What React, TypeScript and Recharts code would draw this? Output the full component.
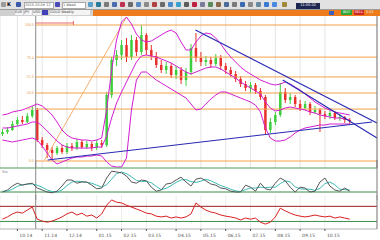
import React from 'react';
import { ComposedChart, Bar, Line, XAxis, YAxis, CartesianGrid, ReferenceLine } from 'recharts';

// weekly candles
const opens = [34, 36, 38, 44, 48, 46, 52, 58, 28, 23, 18, 15, 20, 16, 22, 20, 26, 21, 24, 20, 25, 23, 73, 108, 113, 123, 111, 128, 116, 133, 118, 112, 103, 98, 102, 93, 98, 88, 96, 120, 110, 106, 108, 104, 110, 102, 98, 94, 89, 84, 80, 83, 77, 71, 38, 46, 53, 76, 68, 71, 64, 60, 64, 56, 58, 54, 52, 55, 50, 51, 48];
const closes = [36, 38, 44, 48, 46, 52, 58, 28, 23, 18, 15, 20, 16, 22, 20, 26, 21, 24, 20, 25, 23, 73, 108, 113, 123, 111, 128, 116, 133, 118, 112, 103, 98, 102, 93, 98, 88, 96, 120, 110, 106, 108, 104, 110, 102, 98, 94, 89, 84, 80, 83, 77, 71, 38, 46, 53, 76, 68, 71, 64, 60, 64, 56, 58, 54, 52, 55, 50, 51, 48, 47];
const highs = [39, 41, 47, 51, 52, 55, 62, 60, 31, 25, 21, 22, 23, 25, 25, 29, 28, 27, 26, 28, 28, 76, 111, 118, 128, 130, 133, 131, 143, 135, 123, 116, 108, 106, 105, 102, 101, 100, 124, 135, 116, 112, 111, 114, 113, 105, 101, 97, 92, 87, 86, 85, 80, 73, 50, 56, 85, 80, 75, 73, 68, 67, 66, 62, 60, 57, 58, 57, 54, 52, 50];
const lows = [32, 34, 37, 42, 44, 45, 50, 26, 20, 10, 8, 13, 14, 14, 17, 18, 19, 19, 17, 18, 20, 21, 70, 102, 108, 106, 108, 112, 113, 113, 108, 100, 95, 94, 90, 89, 84, 82, 93, 106, 102, 102, 100, 102, 98, 94, 91, 86, 81, 77, 75, 74, 68, 33, 35, 43, 51, 65, 64, 61, 57, 58, 53, 54, 36, 49, 49, 48, 47, 45, 44];

// bollinger bands
const bandUpper = [53, 54, 56, 57, 58, 60, 62, 64, 62, 58, 53, 46, 38, 33, 30, 29, 28, 28, 27, 28, 30, 58, 98, 128, 146, 151, 144, 134, 128, 126, 127, 130, 133, 136, 138, 135, 126, 118, 118, 126, 132, 135, 134, 130, 124, 117, 111, 106, 101, 97, 94, 91, 88, 86, 84, 83, 84, 86, 84, 81, 78, 74, 70, 66, 63, 60, 58, 56, 55, 54, 53];
const bandMiddle = [40, 40, 41, 42, 43, 44, 46, 46, 42, 37, 32, 27, 23, 21, 20, 20, 20, 20, 20, 21, 21, 32, 50, 65, 76, 86, 96, 106, 112, 113, 112, 111, 109, 107, 105, 102, 99, 96, 94, 96, 98, 100, 101, 101, 99, 96, 93, 90, 86, 83, 80, 77, 74, 66, 60, 57, 58, 60, 61, 60, 59, 58, 56, 55, 53, 52, 51, 50, 50, 49, 48];
const bandLower = [28, 27, 26, 27, 28, 29, 30, 28, 22, 15, 8, 4, 6, 8, 10, 11, 11, 12, 12, 13, 12, 6, 2, 1, 1, 10, 58, 88, 96, 96, 92, 88, 85, 82, 79, 76, 73, 70, 64, 58, 59, 64, 69, 73, 76, 76, 74, 72, 70, 68, 66, 63, 56, 40, 30, 27, 27, 28, 31, 35, 38, 40, 41, 42, 43, 43, 44, 44, 44, 44, 44];

// stochastic
const stochK = [20, 25, 35, 42, 37, 40, 42, 30, 25, 20, 18, 22, 35, 50, 50, 42, 45, 45, 37, 28, 30, 55, 72, 70, 68, 60, 45, 42, 50, 48, 32, 22, 25, 40, 42, 50, 57, 45, 35, 52, 55, 48, 40, 37, 30, 28, 22, 20, 20, 37, 32, 22, 42, 28, 25, 42, 55, 48, 32, 20, 32, 30, 20, 22, 45, 55, 35, 25, 22, 30, 22];
const stochD = [22, 22, 27, 34, 38, 40, 40, 37, 32, 25, 21, 20, 25, 36, 45, 47, 46, 44, 42, 37, 32, 38, 52, 66, 70, 66, 58, 49, 46, 47, 43, 34, 26, 29, 36, 44, 50, 51, 46, 44, 47, 52, 48, 42, 36, 32, 27, 23, 21, 26, 30, 30, 32, 31, 32, 32, 41, 48, 45, 33, 28, 27, 27, 24, 29, 41, 45, 38, 27, 26, 25];

// rsi
const rsiValues = [36, 42, 50, 55, 52, 60, 68, 36, 31, 28, 31, 36, 42, 50, 55, 47, 52, 44, 47, 39, 50, 73, 87, 81, 79, 73, 68, 63, 58, 52, 50, 44, 42, 44, 39, 42, 39, 42, 50, 79, 68, 60, 55, 52, 47, 44, 42, 39, 34, 39, 36, 39, 28, 23, 28, 42, 65, 58, 52, 47, 44, 42, 44, 47, 44, 42, 44, 39, 42, 39, 36];

const dateTicks = [3, 8, 13, 19, 24, 29, 35, 40, 45, 50, 55, 60, 65];
const dateLabels = ['10.14', '11.14', '12.14', '01.15', '02.15', '03.15', '04.15', '05.15', '06.15', '07.15', '08.15', '09.15', '10.15'];

// drawings
const fibRatios = [0, 0.236, 0.382, 0.5, 0.618, 1];
const fibHigh = 143;
const fibLow = 7;
const fibStart = 6.7;
const trendLines = [
  { x1: 38.9, y1: 138, x2: 75.5, y2: 45 },
  { x1: 56.5, y1: 88, x2: 75.5, y2: 30 },
  { x1: 9.1, y1: 8, x2: 74.5, y2: 46 },
];
const fibDiagonal = { x1: 8.5, y1: 8, x2: 25, y2: 151 };
const measure = { x1: 6.7, x2: 14.3, y: 145 };

const X_DOMAIN: [number, number] = [-0.5, 75.5];

const mainData = opens.map((o, i) => ({
  i, o, c: closes[i], h: highs[i], l: lows[i],
  up: bandUpper[i], mid: bandMiddle[i], lo: bandLower[i],
}));
const stochData = stochK.map((k, i) => ({ i, k, d: stochD[i] }));
const rsiData = rsiValues.map((r, i) => ({ i, r }));

const Candle = (props: any) => {
  const { x, y, width, height, payload } = props;
  if (!payload) return null;
  const top = Math.min(y, y + height);
  const bottom = Math.max(y, y + height);
  const ppu = (bottom - top) / (payload.h - payload.l || 1);
  const color = payload.c >= payload.o ? '#3ccf3c' : '#e8302c';
  const bTop = top + (payload.h - Math.max(payload.o, payload.c)) * ppu;
  const bBot = top + (payload.h - Math.min(payload.o, payload.c)) * ppu;
  const cx = x + width / 2;
  return (
    <g>
      <line x1={cx} x2={cx} y1={top} y2={bottom} stroke={color} strokeWidth={1} />
      <rect x={cx - 1.25} y={bTop} width={2.5} height={Math.max(1, bBot - bTop)} fill={color} />
    </g>
  );
};

const DateTick = (props: any) => {
  const { x, y, payload } = props;
  const idx = dateTicks.indexOf(payload.value);
  return (
    <text x={x + 2} y={y + 4} fontSize={4.5} fill="#555" textAnchor="start" fontFamily="DejaVu Sans">
      {dateLabels[idx]}
    </text>
  );
};

const toolIcons = [
  { left: 1, color: '#9a9a9a' }, { left: 16, color: '#3a5aa8' }, { left: 55, color: '#4a4ab8' },
  { left: 88, color: '#5aa0c8' }, { left: 96, color: '#2a7a9a' }, { left: 104, color: '#7a7a7a' },
  { left: 112, color: '#4a6ab0' }, { left: 120, color: '#c03050' }, { left: 128, color: '#6a6a6a' },
  { left: 136, color: '#5a8ac0' }, { left: 144, color: '#8a8a8a' }, { left: 152, color: '#b04040' },
  { left: 160, color: '#6a6a6a' }, { left: 168, color: '#4a8ac8' }, { left: 176, color: '#3aa0d0' },
  { left: 184, color: '#5a5a5a' }, { left: 192, color: '#c02040' }, { left: 200, color: '#7a7a9a' },
  { left: 208, color: '#5a8a5a' }, { left: 216, color: '#8a6a4a' }, { left: 224, color: '#4a6a9a' },
  { left: 232, color: '#7a7a7a' }, { left: 240, color: '#3a6ab0' }, { left: 248, color: '#8a8a8a' },
  { left: 256, color: '#6a8aa0' }, { left: 264, color: '#3a7ad0' }, { left: 272, color: '#4a8ae0' },
  { left: 282, color: '#a08a3a' },
];

const tinyText: React.CSSProperties = {
  fontFamily: 'DejaVu Sans', fontSize: 3.5, lineHeight: '5px', whiteSpace: 'nowrap', overflow: 'hidden',
};

export default function App() {
  return (
    <div style={{ position: 'fixed', left: 0, top: 0, width: 380, height: 240, background: '#fff', overflow: 'hidden' }}>
      {/* toolbar */}
      <div style={{ position: 'absolute', left: 0, top: 0, width: 380, height: 9, background: '#e2e2e2', borderBottom: '1px solid #9a9a9a' }}>
        {toolIcons.map((t, k) => (
          <div key={k} style={{ position: 'absolute', left: t.left, top: 2, width: 5, height: 5, background: t.color, borderRadius: 1 }} />
        ))}
        <div style={{ ...tinyText, position: 'absolute', left: 7, top: 2, fontSize: 5, fontWeight: 'bold' }}>K</div>
        <div style={{ ...tinyText, position: 'absolute', left: 24, top: 2, width: 28, height: 5, background: '#fff', border: '1px solid #aaa', color: '#555' }}>2015.10.09 12</div>
        <div style={{ ...tinyText, position: 'absolute', left: 62, top: 2, width: 22, height: 5, background: '#fff', border: '1px solid #aaa', color: '#555' }}>1 Week</div>
        <div style={{ ...tinyText, position: 'absolute', left: 296, top: 3, width: 24, height: 6, background: '#1c2650', color: '#fff', textAlign: 'center' }}>11:05:20</div>
      </div>
      {/* tabs */}
      <div style={{ position: 'absolute', left: 0, top: 10, width: 93, height: 6, background: '#d0d0d0' }}>
        <div style={{ ...tinyText, position: 'absolute', left: 15, top: 0, width: 8, height: 5, background: '#f4f4f4', color: '#444' }}>EUR</div>
        <div style={{ ...tinyText, position: 'absolute', left: 24, top: 0, width: 8, height: 5, background: '#f4f4f4', color: '#444' }}>JPY</div>
        <div style={{ ...tinyText, position: 'absolute', left: 33, top: 0, width: 8, height: 5, background: '#f4f4f4', color: '#444' }}>USD</div>
        <div style={{ position: 'absolute', left: 42, top: 0, width: 6, height: 5, background: '#4040b8' }} />
        <div style={{ ...tinyText, position: 'absolute', left: 50, top: 0, width: 40, height: 5, background: '#f4f4f4', color: '#444' }}>GOLD Weekly</div>
      </div>
      <div style={{ position: 'absolute', left: 93, top: 10, width: 287, height: 6, background: '#ef7c1c' }}>
        <div style={{ position: 'absolute', left: 236, top: 1, width: 5, height: 4, background: '#3a60c0' }} />
        <div style={{ ...tinyText, position: 'absolute', left: 248, top: 0, width: 11, height: 5, background: '#2fa83a', color: '#fff', textAlign: 'center' }}>BUY</div>
        <div style={{ ...tinyText, position: 'absolute', left: 261, top: 0, width: 10, height: 5, background: '#d02828', color: '#fff', textAlign: 'center' }}>SELL</div>
        <div style={{ ...tinyText, position: 'absolute', left: 273, top: 0, color: '#eee' }}>0.01</div>
      </div>

      {/* price pane */}
      <div style={{ position: 'absolute', left: 0, top: 16 }}>
        <ComposedChart width={380} height={152} data={mainData} margin={{ top: 0, right: 0, bottom: 0, left: 0 }}>
          <CartesianGrid horizontal={false} stroke="#e4e4e4" />
          <XAxis dataKey="i" type="number" domain={X_DOMAIN} ticks={dateTicks} hide allowDataOverflow />
          <YAxis orientation="right" domain={[0, 152]} width={3} tick={false} axisLine={{ stroke: '#7a7a7a' }} allowDataOverflow />
          <ReferenceLine x={fibStart} stroke="#8a8a8a" ifOverflow="visible" />
          {fibRatios.map((r) => {
            const level = fibHigh - r * (fibHigh - fibLow);
            return (
              <ReferenceLine
                key={r}
                segment={[{ x: fibStart, y: level }, { x: X_DOMAIN[1], y: level }]}
                stroke="#f3a248"
                ifOverflow="visible"
                label={{ value: ((1 - r) * 100).toFixed(1), position: 'left', fontSize: 4, fill: '#e8a050', offset: 2 }}
              />
            );
          })}
          <ReferenceLine
            segment={[{ x: fibDiagonal.x1, y: fibDiagonal.y1 }, { x: fibDiagonal.x2, y: fibDiagonal.y2 }]}
            stroke="#f4b070"
            ifOverflow="visible"
          />
          <ReferenceLine segment={[{ x: measure.x1, y: measure.y }, { x: measure.x2, y: measure.y }]} stroke="#e46a6a" ifOverflow="visible" />
          <ReferenceLine segment={[{ x: measure.x2, y: measure.y - 2 }, { x: measure.x2, y: measure.y + 2 }]} stroke="#e46a6a" ifOverflow="visible" />
          <Line dataKey="up" stroke="#d21ed2" dot={false} strokeWidth={1} isAnimationActive={false} />
          <Line dataKey="mid" stroke="#d21ed2" dot={false} strokeWidth={1} isAnimationActive={false} />
          <Line dataKey="lo" stroke="#d21ed2" dot={false} strokeWidth={1} isAnimationActive={false} />
          <Bar dataKey={(d: any) => [d.l, d.h]} barSize={3} shape={<Candle />} isAnimationActive={false} />
          {trendLines.map((t, k) => (
            <ReferenceLine
              key={k}
              segment={[{ x: t.x1, y: t.y1 }, { x: t.x2, y: t.y2 }]}
              stroke="#2a2ab4"
              strokeWidth={1.2}
              ifOverflow="visible"
            />
          ))}
        </ComposedChart>
      </div>

      {/* stochastic pane */}
      <div style={{ position: 'absolute', left: 0, top: 160 }}>
        <ComposedChart width={380} height={40} data={stochData} margin={{ top: 0, right: 0, bottom: 0, left: 0 }}>
          <XAxis dataKey="i" type="number" domain={X_DOMAIN} ticks={dateTicks} hide allowDataOverflow />
          <YAxis orientation="right" domain={[0, 100]} width={3} tick={false} axisLine={{ stroke: '#7a7a7a' }} />
          <ReferenceLine y={80} stroke="#4a9e58" />
          <ReferenceLine y={20} stroke="#3a8e48" />
          <ReferenceLine x={fibStart} stroke="#8a8a8a" />
          <Line dataKey="d" stroke="#3cbab2" dot={false} strokeWidth={1} isAnimationActive={false} />
          <Line dataKey="k" stroke="#555555" dot={false} strokeWidth={1} isAnimationActive={false} />
        </ComposedChart>
      </div>
      <div style={{ ...tinyText, position: 'absolute', left: 2, top: 170, color: '#888' }}>Sto</div>

      {/* rsi pane */}
      <div style={{ position: 'absolute', left: 0, top: 195 }}>
        <ComposedChart width={380} height={45} data={rsiData} margin={{ top: 0, right: 0, bottom: 0, left: 0 }}>
          <CartesianGrid horizontal={false} stroke="#ececec" />
          <XAxis
            dataKey="i"
            type="number"
            domain={X_DOMAIN}
            ticks={dateTicks}
            height={11}
            tickSize={2}
            tick={<DateTick />}
            axisLine={{ stroke: '#b0b0b0' }}
            tickLine={{ stroke: '#555' }}
            allowDataOverflow
          />
          <YAxis orientation="right" domain={[10, 100]} width={3} tick={false} axisLine={{ stroke: '#7a7a7a' }} />
          <ReferenceLine y={70} stroke="#9a1e1e" />
          <ReferenceLine y={30} stroke="#3a8e48" />
          <ReferenceLine x={fibStart} stroke="#8a8a8a" />
          <Line dataKey="r" stroke="#d82020" dot={false} strokeWidth={1} isAnimationActive={false} />
        </ComposedChart>
      </div>
    </div>
  );
}
